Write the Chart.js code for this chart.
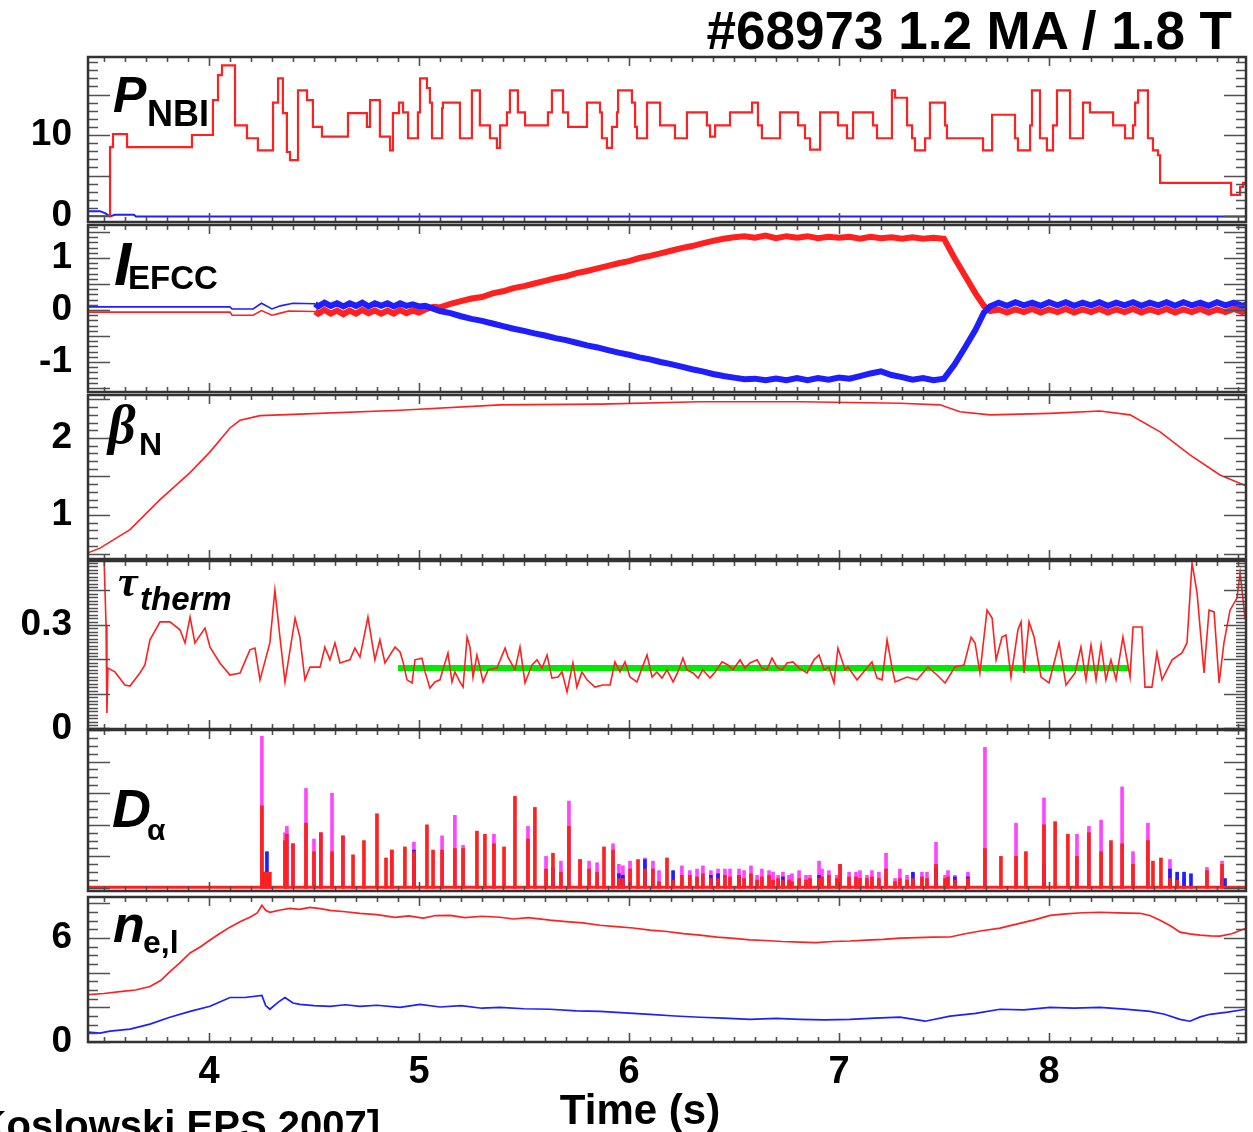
<!DOCTYPE html>
<html>
<head>
<meta charset="utf-8">
<title>#68973 1.2 MA / 1.8 T</title>
<script src="https://cdn.jsdelivr.net/npm/chart.js@4.4.1/dist/chart.umd.min.js"></script>
<style>
  body { margin: 0; background: #fff; }
  #page { position: relative; width: 1253px; height: 1132px; overflow: hidden; background: #fff;
          font-family: "Liberation Sans", Arial, sans-serif; color: #000; }
  #page canvas { position: absolute; left: 0; top: 0; }
  .t { position: absolute; line-height: 1; white-space: nowrap; font-weight: bold; }
  .it { font-style: italic; }
  .serif { font-family: "Liberation Serif", "Times New Roman", serif; }
</style>
</head>
<body>
<div id="page">
  <canvas id="cNbi" width="1253" height="1132"></canvas>
  <canvas id="cEfcc" width="1253" height="1132"></canvas>
  <canvas id="cBeta" width="1253" height="1132"></canvas>
  <canvas id="cTau" width="1253" height="1132"></canvas>
  <canvas id="cDa" width="1253" height="1132"></canvas>
  <canvas id="cNe" width="1253" height="1132"></canvas>

  <div class="t" style="right:21px;top:4px;font-size:53px">#68973 1.2 MA / 1.8 T</div>
  <div class="t" style="left:640px;top:1089px;font-size:42px;transform:translateX(-50%)">Time (s)</div>
  <div class="t" style="right:873px;top:1105px;font-size:40px">[Koslowski EPS 2007]</div>

  <!-- panel labels -->
  <div class="t it" style="left:113px;top:70px;font-size:50px">P</div>
  <div class="t" style="left:147px;top:96px;font-size:36px">NBI</div>
  <div class="t it" style="left:114px;top:233px;font-size:62px">I</div>
  <div class="t" style="left:128px;top:261px;font-size:33px">EFCC</div>
  <div class="t it serif" style="left:108px;top:398px;font-size:54px">β</div>
  <div class="t" style="left:139px;top:428px;font-size:32px">N</div>
  <div class="t it serif" style="left:118px;top:560px;font-size:44px">τ</div>
  <div class="t it" style="left:140px;top:582px;font-size:33px">therm</div>
  <div class="t it" style="left:112px;top:781px;font-size:54px">D</div>
  <div class="t" style="left:147px;top:815px;font-size:30px">α</div>
  <div class="t it" style="left:113px;top:898px;font-size:52px">n</div>
  <div class="t" style="left:143px;top:926px;font-size:32px">e,l</div>
</div>

<script>
// ---- data (time in s) ----

var timeTicks = [4, 5, 6, 7, 8];

// P_NBI (MW), steps
var nbiTime = [3.424, 3.529, 3.543, 3.610, 3.919, 4.019, 4.043, 4.062, 4.124, 4.181,
               4.233, 4.305, 4.329, 4.352, 4.371, 4.386, 4.424, 4.467, 4.495, 4.538,
               4.662, 4.752, 4.767, 4.814, 4.862, 4.876, 4.905, 4.924, 4.948, 4.995,
               5.005, 5.038, 5.052, 5.062, 5.110, 5.114, 5.195, 5.252, 5.290, 5.338,
               5.371, 5.386, 5.419, 5.433, 5.471, 5.505, 5.614, 5.633, 5.686, 5.710,
               5.800, 5.862, 5.871, 5.895, 5.919, 5.943, 5.948, 6.014, 6.029, 6.038,
               6.086, 6.148, 6.219, 6.276, 6.371, 6.386, 6.410, 6.481, 6.586, 6.614,
               6.633, 6.719, 6.805, 6.838, 6.862, 6.910, 6.995, 7.038, 7.067, 7.162,
               7.181, 7.252, 7.267, 7.324, 7.348, 7.362, 7.410, 7.433, 7.505, 7.514,
               7.686, 7.729, 7.838, 7.852, 7.910, 7.919, 7.957, 7.990, 8.019, 8.038,
               8.100, 8.162, 8.195, 8.305, 8.362, 8.400, 8.410, 8.424, 8.471, 8.495,
               8.519, 8.529, 8.867, 8.910, 8.924, 8.960];
var nbiPower = [0, 8.5, 10.1, 8.5, 10.0, 14.3, 17.4, 18.6, 11.2, 9.6,
                8.1, 14.0, 17.0, 12.7, 7.9, 6.9, 15.5, 14.3, 11.0, 9.8,
                12.7, 11.0, 14.3, 9.8, 8.1, 12.7, 14.0, 12.8, 9.6, 12.8,
                17.0, 15.8, 14.0, 9.6, 13.3, 14.0, 9.6, 15.5, 11.2, 9.6,
                8.4, 11.2, 12.8, 15.5, 12.8, 11.2, 12.8, 15.5, 12.8, 11.0,
                14.0, 12.8, 9.6, 8.4, 11.0, 12.8, 15.5, 14.0, 11.0, 9.6,
                14.0, 11.2, 9.6, 12.8, 11.2, 9.8, 11.2, 12.8, 14.0, 11.2,
                9.6, 12.8, 11.2, 9.6, 8.2, 12.8, 11.2, 9.6, 12.8, 11.2,
                9.6, 15.5, 14.6, 11.2, 9.6, 8.1, 9.6, 14.0, 11.2, 9.6,
                8.1, 12.5, 9.6, 8.1, 11.2, 15.5, 9.6, 8.1, 11.2, 15.5,
                9.6, 14.0, 12.8, 11.2, 9.6, 11.2, 14.0, 15.5, 9.6, 8.1,
                7.5, 4.1, 2.6, 3.6, 4.1, 4.1];
var nbiBlueTime = [3.424, 3.481, 3.505, 3.529, 3.552, 3.643, 3.652, 8.960];
var nbiBlueVal  = [0.6, 0.6, 0.35, -0.05, 0.15, 0.15, -0.05, -0.05];

// I_EFCC (kA)
var efccRedTime = [3.424, 4.100, 4.110, 4.210, 4.250, 4.300, 4.340, 4.380, 4.505,
                   4.52, 4.55, 4.58, 4.61, 4.64, 4.67, 4.70, 4.73, 4.76, 4.79, 4.82, 4.85, 4.88, 4.91, 4.94, 4.97, 5.00, 5.03,
                   5.07, 5.10, 5.15, 5.20, 5.25, 5.30, 5.35, 5.40, 5.45, 5.50, 5.55, 5.60, 5.65, 5.70, 5.75,
                   5.80, 5.85, 5.90, 5.95, 6.00, 6.05, 6.10, 6.15, 6.20, 6.25, 6.30, 6.35, 6.40, 6.45, 6.50,
                   6.55, 6.60, 6.65, 6.70, 6.75, 6.80, 6.85, 6.90, 6.95, 7.00, 7.05, 7.10, 7.15, 7.20, 7.25,
                   7.30, 7.35, 7.40, 7.45, 7.50,
                   7.55, 7.60, 7.65, 7.69, 7.72,
                   7.76, 7.80, 7.84, 7.88, 7.92, 7.96, 8.00, 8.04, 8.08, 8.12, 8.16, 8.20, 8.24, 8.28, 8.32,
                   8.36, 8.40, 8.44, 8.48, 8.52, 8.56, 8.60, 8.64, 8.68, 8.72, 8.76, 8.80, 8.84, 8.88, 8.92, 8.95];
var efccRedVal = [-0.04, -0.04, -0.10, -0.10, -0.01, -0.10, -0.06, -0.02, -0.03,
                  -0.07, 0.00, -0.07, -0.01, -0.08, -0.01, -0.07, 0.00, -0.06, -0.01, -0.07, -0.01, -0.07, 0.00, -0.06, -0.01, -0.05, 0.01,
                  0.06, 0.05, 0.12, 0.17, 0.22, 0.25, 0.32, 0.36, 0.42, 0.46, 0.51, 0.56, 0.61, 0.65, 0.71,
                  0.75, 0.80, 0.85, 0.90, 0.94, 1.00, 1.04, 1.09, 1.14, 1.19, 1.23, 1.28, 1.33, 1.37, 1.40,
                  1.42, 1.39, 1.43, 1.38, 1.42, 1.39, 1.42, 1.38, 1.41, 1.39, 1.41, 1.37, 1.41, 1.38, 1.40,
                  1.37, 1.40, 1.37, 1.39, 1.37,
                  1.00, 0.66, 0.32, 0.08, -0.02,
                  0.01, -0.05, 0.01, -0.04, 0.02, -0.05, 0.01, -0.04, 0.02, -0.05, 0.01, -0.04, 0.02, -0.05, 0.01,
                  -0.04, 0.02, -0.05, 0.01, -0.04, 0.02, -0.05, 0.01, -0.04, 0.02, -0.05, 0.01, -0.04, 0.02, -0.04, 0.00];
var efccBlueTime = [3.424, 4.100, 4.110, 4.210, 4.250, 4.300, 4.340, 4.400, 4.505,
                    4.52, 4.55, 4.58, 4.61, 4.64, 4.67, 4.70, 4.73, 4.76, 4.79, 4.82, 4.85, 4.88, 4.91, 4.94, 4.97, 5.00, 5.03,
                    5.10, 5.15, 5.20, 5.25, 5.30, 5.35, 5.40, 5.45, 5.50, 5.55, 5.60, 5.65, 5.70, 5.75, 5.80,
                    5.85, 5.90, 5.95, 6.00, 6.05, 6.10, 6.15, 6.20, 6.25, 6.30, 6.35, 6.40, 6.45, 6.50, 6.55,
                    6.60, 6.65, 6.70, 6.75, 6.80, 6.85, 6.90, 6.95, 7.00, 7.05, 7.10, 7.15, 7.20, 7.25, 7.30,
                    7.35, 7.40, 7.45, 7.50,
                    7.55, 7.60, 7.65, 7.69, 7.72,
                    7.76, 7.80, 7.84, 7.88, 7.92, 7.96, 8.00, 8.04, 8.08, 8.12, 8.16, 8.20, 8.24, 8.28, 8.32,
                    8.36, 8.40, 8.44, 8.48, 8.52, 8.56, 8.60, 8.64, 8.68, 8.72, 8.76, 8.80, 8.84, 8.88, 8.92, 8.95];
var efccBlueVal = [0.06, 0.06, 0.02, 0.02, 0.13, 0.02, 0.08, 0.13, 0.12,
                   0.07, 0.14, 0.08, 0.13, 0.07, 0.13, 0.08, 0.14, 0.07, 0.13, 0.08, 0.13, 0.07, 0.13, 0.08, 0.11, 0.07, 0.08,
                   -0.02, -0.06, -0.12, -0.17, -0.21, -0.26, -0.31, -0.36, -0.40, -0.45, -0.49, -0.54, -0.58, -0.63, -0.68,
                   -0.72, -0.77, -0.82, -0.86, -0.91, -0.95, -1.00, -1.04, -1.09, -1.14, -1.18, -1.23, -1.27, -1.30, -1.33,
                   -1.32, -1.35, -1.32, -1.35, -1.31, -1.35, -1.31, -1.34, -1.30, -1.32, -1.27, -1.22, -1.18, -1.25, -1.29,
                   -1.34, -1.31, -1.35, -1.32,
                   -1.05, -0.72, -0.38, -0.05, 0.07,
                   0.14, 0.08, 0.15, 0.09, 0.14, 0.08, 0.15, 0.09, 0.15, 0.08, 0.14, 0.09, 0.15, 0.08, 0.14,
                   0.09, 0.15, 0.08, 0.14, 0.09, 0.15, 0.08, 0.15, 0.09, 0.14, 0.08, 0.15, 0.09, 0.14, 0.08, 0.12];

// beta_N
var betaTime = [3.424, 3.481, 3.624, 3.767, 3.910, 4.005, 4.100, 4.148, 4.243, 4.433,
                4.910, 5.386, 5.862, 6.338, 6.814, 7.290, 7.481, 7.576, 7.719, 8.005,
                8.243, 8.386, 8.529, 8.671, 8.814, 8.938];
var betaVal = [0.51, 0.57, 0.81, 1.20, 1.55, 1.82, 2.13, 2.23, 2.29, 2.31,
               2.36, 2.43, 2.44, 2.47, 2.47, 2.45, 2.43, 2.34, 2.30, 2.32,
               2.35, 2.30, 2.08, 1.78, 1.52, 1.38];

// tau_therm (s)
var tauTime = [3.500, 3.510, 3.514, 3.519, 3.552, 3.600, 3.624, 3.671, 3.695, 3.719,
               3.767, 3.814, 3.862, 3.886, 3.910, 3.933, 3.981, 4.005, 4.052, 4.100,
               4.148, 4.195, 4.219, 4.243, 4.290, 4.314, 4.338, 4.362, 4.410, 4.433,
               4.457, 4.481, 4.529, 4.552, 4.576, 4.600, 4.624, 4.671, 4.695, 4.719,
               4.757, 4.790, 4.814, 4.838, 4.886, 4.910, 4.924, 4.943, 4.967, 4.981,
               5.014, 5.029, 5.052, 5.076, 5.100, 5.114, 5.138, 5.157, 5.171, 5.195,
               5.210, 5.229, 5.243, 5.257, 5.276, 5.290, 5.305, 5.329, 5.371, 5.410,
               5.424, 5.457, 5.481, 5.505, 5.538, 5.562, 5.586, 5.610, 5.633, 5.662,
               5.681, 5.705, 5.733, 5.752, 5.776, 5.800, 5.838, 5.876, 5.910, 5.933,
               5.957, 5.981, 6.005, 6.038, 6.062, 6.086, 6.110, 6.133, 6.157, 6.181,
               6.210, 6.233, 6.257, 6.276, 6.305, 6.329, 6.352, 6.386, 6.410, 6.443,
               6.471, 6.495, 6.529, 6.552, 6.576, 6.610, 6.633, 6.657, 6.681, 6.705,
               6.729, 6.752, 6.781, 6.810, 6.848, 6.881, 6.905, 6.929, 6.952, 6.976,
               6.995, 7.029, 7.043, 7.086, 7.105, 7.157, 7.181, 7.205, 7.229, 7.252,
               7.267, 7.324, 7.371, 7.424, 7.467, 7.505, 7.552, 7.595, 7.629, 7.648,
               7.671, 7.705, 7.729, 7.748, 7.776, 7.795, 7.819, 7.852, 7.867, 7.881,
               7.905, 7.929, 7.962, 8.000, 8.048, 8.081, 8.124, 8.152, 8.176, 8.200,
               8.224, 8.248, 8.271, 8.295, 8.319, 8.352, 8.386, 8.400, 8.443, 8.457,
               8.490, 8.514, 8.538, 8.586, 8.633, 8.657, 8.681, 8.705, 8.738, 8.762,
               8.786, 8.810, 8.833, 8.862, 8.895, 8.910, 8.933, 8.967];
var tauVal = [0.50, 0.30, 0.045, 0.175, 0.164, 0.126, 0.123, 0.161, 0.184, 0.257,
              0.309, 0.309, 0.286, 0.248, 0.323, 0.248, 0.291, 0.236, 0.190, 0.155,
              0.161, 0.228, 0.233, 0.141, 0.248, 0.401, 0.265, 0.135, 0.320, 0.265,
              0.141, 0.178, 0.178, 0.236, 0.199, 0.248, 0.190, 0.199, 0.233, 0.207,
              0.323, 0.199, 0.257, 0.190, 0.236, 0.222, 0.193, 0.141, 0.132, 0.199,
              0.204, 0.164, 0.117, 0.135, 0.141, 0.170, 0.219, 0.135, 0.164, 0.135,
              0.120, 0.265, 0.236, 0.149, 0.213, 0.178, 0.135, 0.170, 0.175, 0.233,
              0.207, 0.170, 0.236, 0.132, 0.184, 0.199, 0.175, 0.213, 0.146, 0.149,
              0.164, 0.106, 0.190, 0.120, 0.164, 0.141, 0.120, 0.126, 0.126, 0.193,
              0.164, 0.193, 0.149, 0.135, 0.175, 0.213, 0.149, 0.164, 0.146, 0.170,
              0.135, 0.164, 0.204, 0.170, 0.161, 0.146, 0.170, 0.146, 0.164, 0.193,
              0.184, 0.170, 0.199, 0.175, 0.190, 0.199, 0.175, 0.170, 0.204, 0.178,
              0.170, 0.190, 0.193, 0.175, 0.161, 0.199, 0.213, 0.170, 0.178, 0.132,
              0.233, 0.170, 0.178, 0.141, 0.155, 0.193, 0.146, 0.141, 0.257, 0.178,
              0.135, 0.149, 0.141, 0.178, 0.155, 0.132, 0.178, 0.184, 0.265, 0.248,
              0.161, 0.343, 0.320, 0.199, 0.265, 0.271, 0.149, 0.286, 0.309, 0.161,
              0.309, 0.265, 0.149, 0.132, 0.248, 0.126, 0.161, 0.236, 0.141, 0.242,
              0.141, 0.242, 0.141, 0.199, 0.141, 0.265, 0.149, 0.294, 0.294, 0.120,
              0.120, 0.219, 0.141, 0.199, 0.219, 0.248, 0.480, 0.393, 0.161, 0.343,
              0.338, 0.132, 0.248, 0.343, 0.378, 0.451, 0.323, 0.372];
// flat-top mean (green)
var tauMeanTime = [4.90, 8.38];
var tauMeanVal = [0.175, 0.175];

// D_alpha spikes (arb. units): time, magenta / red / blue channel heights
var daTime = [4.252, 4.267, 4.276, 4.290, 4.362, 4.371, 4.400, 4.462, 4.500, 4.533,
              4.586, 4.638, 4.686, 4.738, 4.800, 4.843, 4.871, 4.933, 4.976, 5.038,
              5.067, 5.110, 5.171, 5.210, 5.276, 5.314, 5.357, 5.405, 5.457, 5.519,
              5.552, 5.605, 5.638, 5.676, 5.714, 5.767, 5.810, 5.848, 5.881, 5.924,
              5.952, 5.971, 6.005, 6.043, 6.076, 6.114, 6.143, 6.181, 6.210, 6.252,
              6.290, 6.324, 6.352, 6.390, 6.424, 6.457, 6.481, 6.524, 6.548, 6.581,
              6.610, 6.633, 6.667, 6.686, 6.710, 6.733, 6.762, 6.776, 6.810, 6.843,
              6.862, 6.905, 6.919, 6.952, 6.990, 7.005, 7.048, 7.081, 7.100, 7.133,
              7.157, 7.190, 7.224, 7.267, 7.290, 7.324, 7.352, 7.395, 7.419, 7.462,
              7.505, 7.519, 7.552, 7.614, 7.695, 7.771, 7.843, 7.890, 7.976, 8.029,
              8.090, 8.133, 8.190, 8.248, 8.295, 8.348, 8.400, 8.471, 8.495, 8.533,
              8.576, 8.610, 8.643, 8.676, 8.752, 8.824, 8.838];
var daMagenta = [0.96, 0, 0, 0, 0.35, 0.39, 0.28, 0.63, 0.31, 0.35,
                 0.60, 0.33, 0, 0, 0, 0, 0.24, 0, 0.29, 0,
                 0, 0.33, 0.46, 0.27, 0, 0, 0.34, 0, 0, 0.39,
                 0, 0.20, 0, 0.17, 0.55, 0.18, 0.17, 0.16, 0, 0.28,
                 0.15, 0.14, 0.17, 0, 0.19, 0.17, 0.11, 0, 0, 0.14,
                 0.11, 0.12, 0.14, 0.11, 0.12, 0.12, 0.12, 0.12, 0.11, 0.14,
                 0.08, 0.12, 0.11, 0.10, 0.08, 0.10, 0.08, 0.09, 0.11, 0.08,
                 0.08, 0.17, 0.12, 0.11, 0.08, 0.15, 0.10, 0.10, 0.11, 0.08,
                 0.11, 0.10, 0.22, 0.06, 0.12, 0.08, 0.09, 0.10, 0.10, 0.29,
                 0.08, 0.11, 0.08, 0.10, 0.89, 0, 0.41, 0, 0.57, 0,
                 0, 0.34, 0.39, 0.43, 0, 0.64, 0.23, 0.41, 0, 0,
                 0.18, 0.06, 0.06, 0, 0.13, 0.17, 0];
var daRed = [0.52, 0.10, 0.10, 0.10, 0.30, 0.34, 0.28, 0.41, 0.23, 0.35,
             0.23, 0.33, 0.21, 0.30, 0.47, 0.19, 0.24, 0.26, 0.23, 0.40,
             0.24, 0.24, 0.25, 0.25, 0.36, 0.34, 0.28, 0.26, 0.58, 0.31,
             0.51, 0.12, 0.22, 0.10, 0.39, 0.18, 0.12, 0.10, 0.26, 0.24,
             0.06, 0.06, 0.12, 0.18, 0.12, 0.12, 0.04, 0.19, 0.05, 0.08,
             0.08, 0.07, 0.09, 0.06, 0.06, 0.08, 0.07, 0.08, 0.06, 0.09,
             0.05, 0.07, 0.08, 0.05, 0.06, 0.05, 0.05, 0.04, 0.06, 0.05,
             0.06, 0.06, 0.07, 0.08, 0.06, 0.15, 0.07, 0.07, 0.06, 0.06,
             0.07, 0.06, 0.12, 0.04, 0.06, 0.05, 0.06, 0.07, 0.06, 0.15,
             0.06, 0.07, 0.05, 0.06, 0.25, 0.20, 0.20, 0.23, 0.40, 0.42,
             0.34, 0.20, 0.35, 0.23, 0.30, 0.28, 0.15, 0.30, 0.17, 0.19,
             0.06, 0.05, 0, 0, 0.11, 0.15, 0];
var daBlue = [0, 0.10, 0.23, 0, 0, 0, 0, 0, 0, 0,
              0, 0, 0, 0, 0, 0, 0, 0, 0.24, 0,
              0, 0, 0, 0, 0, 0, 0, 0, 0, 0,
              0, 0, 0.13, 0, 0, 0, 0, 0, 0, 0,
              0.09, 0.08, 0, 0, 0.18, 0, 0, 0, 0.11, 0,
              0, 0, 0, 0.08, 0.09, 0, 0, 0.07, 0, 0,
              0, 0, 0, 0, 0, 0.07, 0, 0, 0, 0,
              0, 0.08, 0, 0, 0, 0, 0, 0, 0, 0,
              0, 0, 0, 0, 0, 0, 0.10, 0, 0, 0.13,
              0, 0, 0.07, 0.07, 0, 0, 0, 0, 0.15, 0,
              0, 0, 0, 0, 0, 0, 0, 0, 0, 0,
              0.12, 0.10, 0.10, 0.09, 0, 0.06, 0.06];
var daBaseTime = [3.424, 8.938];
var daBaseVal = [0.005, 0.005];

// n_e,l (10^19 m^-2)
var neRedTime = [3.424, 3.50, 3.576, 3.65, 3.719, 3.77, 3.814, 3.86, 3.910, 3.96,
                 4.005, 4.05, 4.100, 4.15, 4.195, 4.23, 4.252, 4.270, 4.290, 4.34,
                 4.386, 4.43, 4.481, 4.53, 4.576, 4.65, 4.719, 4.80, 4.886, 4.95,
                 5.02, 5.08, 5.148, 5.22, 5.30, 5.386, 5.45, 5.52, 5.624, 5.70,
                 5.78, 5.862, 5.94, 6.02, 6.100, 6.18, 6.26, 6.338, 6.42, 6.50,
                 6.576, 6.65, 6.73, 6.814, 6.89, 6.97, 7.052, 7.13, 7.21, 7.290,
                 7.37, 7.45, 7.529, 7.60, 7.68, 7.767, 7.85, 7.93, 8.005, 8.08,
                 8.16, 8.243, 8.33, 8.433, 8.48, 8.529, 8.58, 8.624, 8.67, 8.719,
                 8.77, 8.814, 8.87, 8.938];
var neRedVal = [2.74, 2.80, 2.91, 3.00, 3.20, 3.55, 4.06, 4.55, 5.14, 5.50,
                5.89, 6.25, 6.63, 6.95, 7.20, 7.45, 7.89, 7.60, 7.49, 7.62,
                7.71, 7.66, 7.77, 7.70, 7.60, 7.52, 7.43, 7.35, 7.20, 7.28,
                7.15, 7.30, 7.31, 7.18, 7.26, 7.20, 7.10, 7.18, 7.03, 6.95,
                6.88, 6.74, 6.66, 6.58, 6.46, 6.38, 6.26, 6.17, 6.05, 5.98,
                5.89, 5.86, 5.80, 5.77, 5.74, 5.80, 5.83, 5.88, 5.92, 6.00,
                6.02, 6.05, 6.06, 6.25, 6.42, 6.57, 6.82, 7.05, 7.31, 7.40,
                7.46, 7.49, 7.45, 7.43, 7.30, 7.03, 6.70, 6.34, 6.24, 6.17,
                6.13, 6.11, 6.25, 6.57];
var neBlueTime = [3.424, 3.481, 3.529, 3.624, 3.719, 3.814, 3.910, 4.005, 4.100, 4.171,
                  4.252, 4.270, 4.290, 4.33, 4.362, 4.40, 4.433, 4.50, 4.576, 4.65,
                  4.719, 4.80, 4.910, 5.005, 5.10, 5.20, 5.30, 5.386, 5.50, 5.624,
                  5.75, 5.862, 5.98, 6.100, 6.22, 6.338, 6.45, 6.576, 6.70, 6.814,
                  6.93, 7.052, 7.17, 7.290, 7.410, 7.529, 7.65, 7.767, 7.88, 8.005,
                  8.12, 8.243, 8.36, 8.481, 8.55, 8.624, 8.671, 8.72, 8.767, 8.85,
                  8.938];
var neBlueVal = [0.57, 0.51, 0.63, 0.74, 1.03, 1.43, 1.77, 2.06, 2.57, 2.57,
                 2.69, 2.10, 1.89, 2.30, 2.57, 2.25, 2.17, 2.10, 2.06, 2.15,
                 2.06, 2.12, 2.00, 2.17, 2.02, 2.10, 1.95, 2.00, 1.92, 1.89,
                 1.80, 1.77, 1.68, 1.60, 1.50, 1.43, 1.38, 1.31, 1.36, 1.31,
                 1.28, 1.31, 1.38, 1.43, 1.20, 1.49, 1.65, 1.89, 1.85, 2.00,
                 1.95, 2.00, 1.90, 1.77, 1.60, 1.31, 1.20, 1.45, 1.60, 1.72,
                 1.89];

// ---- drawing ----

var FONT = '"Liberation Sans", Arial, sans-serif';
var T_MIN = 3.424, T_MAX = 8.938;
var PAGE_H = 1132;
var RED = 'rgb(255,32,32)';
var BLUE = 'rgb(30,30,255)';
var MAGENTA = 'rgb(255,70,255)';
var GREEN = 'rgb(0,235,0)';

function pts(ts, vs) {
    return ts.map(function (t, i) { return {x: t, y: vs[i]}; });
}

function line(ts, vs, color, width, extra) {
    var ds = {type: 'line', data: pts(ts, vs), borderColor: color, borderWidth: width,
              pointRadius: 0, fill: false, tension: 0};
    return Object.assign(ds, extra || {});
}

function bars(ts, vs, color, order) {
    return {type: 'bar', data: pts(ts, vs), backgroundColor: color, borderWidth: 0,
            barThickness: 3, grouped: false, order: order};
}

// EFCC traces are thin before the coils switch on (~4.5 s), a noisy band after
var efccSegment = {
    borderWidth: function (ctx) { return ctx.p0.parsed.x < 4.5 ? 1.6 : 6; }
};

// frame round the plot area plus inward tick marks on all four sides
var framePlugin = {
    id: 'frame',
    afterDraw: function (chart, args, opts) {
        var ctx = chart.ctx, a = chart.chartArea;
        var x = chart.scales.x, y = chart.scales.y;
        ctx.save();
        ctx.strokeStyle = '#505050';
        ctx.lineWidth = 1.6;
        ctx.beginPath();
        for (var i = Math.ceil(x.min * 10); i <= Math.floor(x.max * 10); i++) {
            var px = Math.round(x.getPixelForValue(i / 10)) + 0.5;
            var len = i % 10 === 0 ? 9 : 5;
            ctx.moveTo(px, a.top); ctx.lineTo(px, a.top + len);
            ctx.moveTo(px, a.bottom); ctx.lineTo(px, a.bottom - len);
        }
        var n0 = Math.ceil(y.min / opts.minor - 1e-6), n1 = Math.floor(y.max / opts.minor + 1e-6);
        for (var j = n0; j <= n1; j++) {
            var v = j * opts.minor;
            var py = Math.round(y.getPixelForValue(v)) + 0.5;
            var r = v / opts.major;
            var l2 = Math.abs(r - Math.round(r)) < 1e-6 ? 22 : 10;
            ctx.moveTo(a.left, py); ctx.lineTo(a.left + l2, py);
            ctx.moveTo(a.right, py); ctx.lineTo(a.right - l2, py);
        }
        ctx.stroke();
        ctx.strokeStyle = '#333';
        ctx.lineWidth = 2.5;
        ctx.strokeRect(a.left, a.top, a.right - a.left, a.bottom - a.top);
        ctx.restore();
    }
};

function makePanel(id, p) {
    var xAxisH = p.showTime ? 50 : 0;
    return new Chart(document.getElementById(id), {
        type: p.type || 'line',
        data: {datasets: p.datasets},
        options: {
            responsive: false,
            animation: false,
            events: [],
            layout: {padding: {top: p.top, bottom: PAGE_H - p.bottom - xAxisH, left: 0, right: 7}},
            plugins: {legend: {display: false}, tooltip: {enabled: false},
                      frame: {minor: p.minor, major: p.major}},
            scales: {
                x: {
                    type: 'linear', min: T_MIN, max: T_MAX, offset: false, bounds: 'data',
                    display: !!p.showTime,
                    grid: {display: false, drawTicks: false},
                    border: {display: false},
                    afterBuildTicks: function (s) {
                        s.ticks = timeTicks.map(function (v) { return {value: v}; });
                    },
                    afterFit: function (s) { s.height = xAxisH; },
                    ticks: {color: '#000', padding: 8, maxRotation: 0, autoSkip: false,
                            font: {family: FONT, size: 38, weight: 'bold'}}
                },
                y: {
                    type: 'linear', min: p.yMin, max: p.yMax, bounds: 'data',
                    grid: {display: false, drawTicks: false},
                    border: {display: false},
                    afterBuildTicks: function (s) {
                        if (p.yTicks.length) {
                            s.ticks = p.yTicks.map(function (v) { return {value: v}; });
                        }
                    },
                    afterFit: function (s) { s.width = 88; },
                    ticks: {display: p.yTicks.length > 0, color: '#000', padding: 16, autoSkip: false,
                            font: {family: FONT, size: 37, weight: 'bold'},
                            callback: function (v) { return String(v); }}
                }
            }
        },
        plugins: [framePlugin]
    });
}

makePanel('cNbi', {
    top: 57, bottom: 222, yMin: -0.74, yMax: 19.63, yTicks: [0, 10], minor: 1, major: 5,
    datasets: [
        line(nbiTime, nbiPower, RED, 2.2, {stepped: true}),
        line(nbiBlueTime, nbiBlueVal, BLUE, 2)
    ]
});

makePanel('cEfcc', {
    top: 225, bottom: 392, yMin: -1.577, yMax: 1.635, yTicks: [1, 0, -1], minor: 0.1, major: 0.5,
    datasets: [
        line(efccBlueTime, efccBlueVal, BLUE, 6, {segment: efccSegment}),
        line(efccRedTime, efccRedVal, RED, 6, {segment: efccSegment})
    ]
});

makePanel('cBeta', {
    top: 395, bottom: 559, yMin: 0.429, yMax: 2.558, yTicks: [2, 1], minor: 0.1, major: 0.5,
    datasets: [line(betaTime, betaVal, RED, 1.6)]
});

makePanel('cTau', {
    top: 561, bottom: 729, yMin: -0.0015, yMax: 0.4855, yTicks: [0.3, 0], minor: 0.01, major: 0.1,
    datasets: [
        line(tauTime, tauVal, RED, 1.6),
        line(tauMeanTime, tauMeanVal, GREEN, 6)
    ]
});

makePanel('cDa', {
    type: 'bar',
    top: 730, bottom: 891, yMin: -0.019, yMax: 1.0, yTicks: [], minor: 0.05, major: 0.2,
    datasets: [
        line(daBaseTime, daBaseVal, RED, 3, {order: 0}),
        bars(daTime, daRed, RED, 1),
        bars(daTime, daBlue, BLUE, 2),
        bars(daTime, daMagenta, MAGENTA, 3)
    ]
});

makePanel('cNe', {
    top: 897, bottom: 1042, yMin: 0, yMax: 8.37, yTicks: [6, 0], minor: 0.5, major: 2,
    showTime: true,
    datasets: [
        line(neRedTime, neRedVal, RED, 1.7),
        line(neBlueTime, neBlueVal, BLUE, 1.7)
    ]
});
</script>
</body>
</html>
